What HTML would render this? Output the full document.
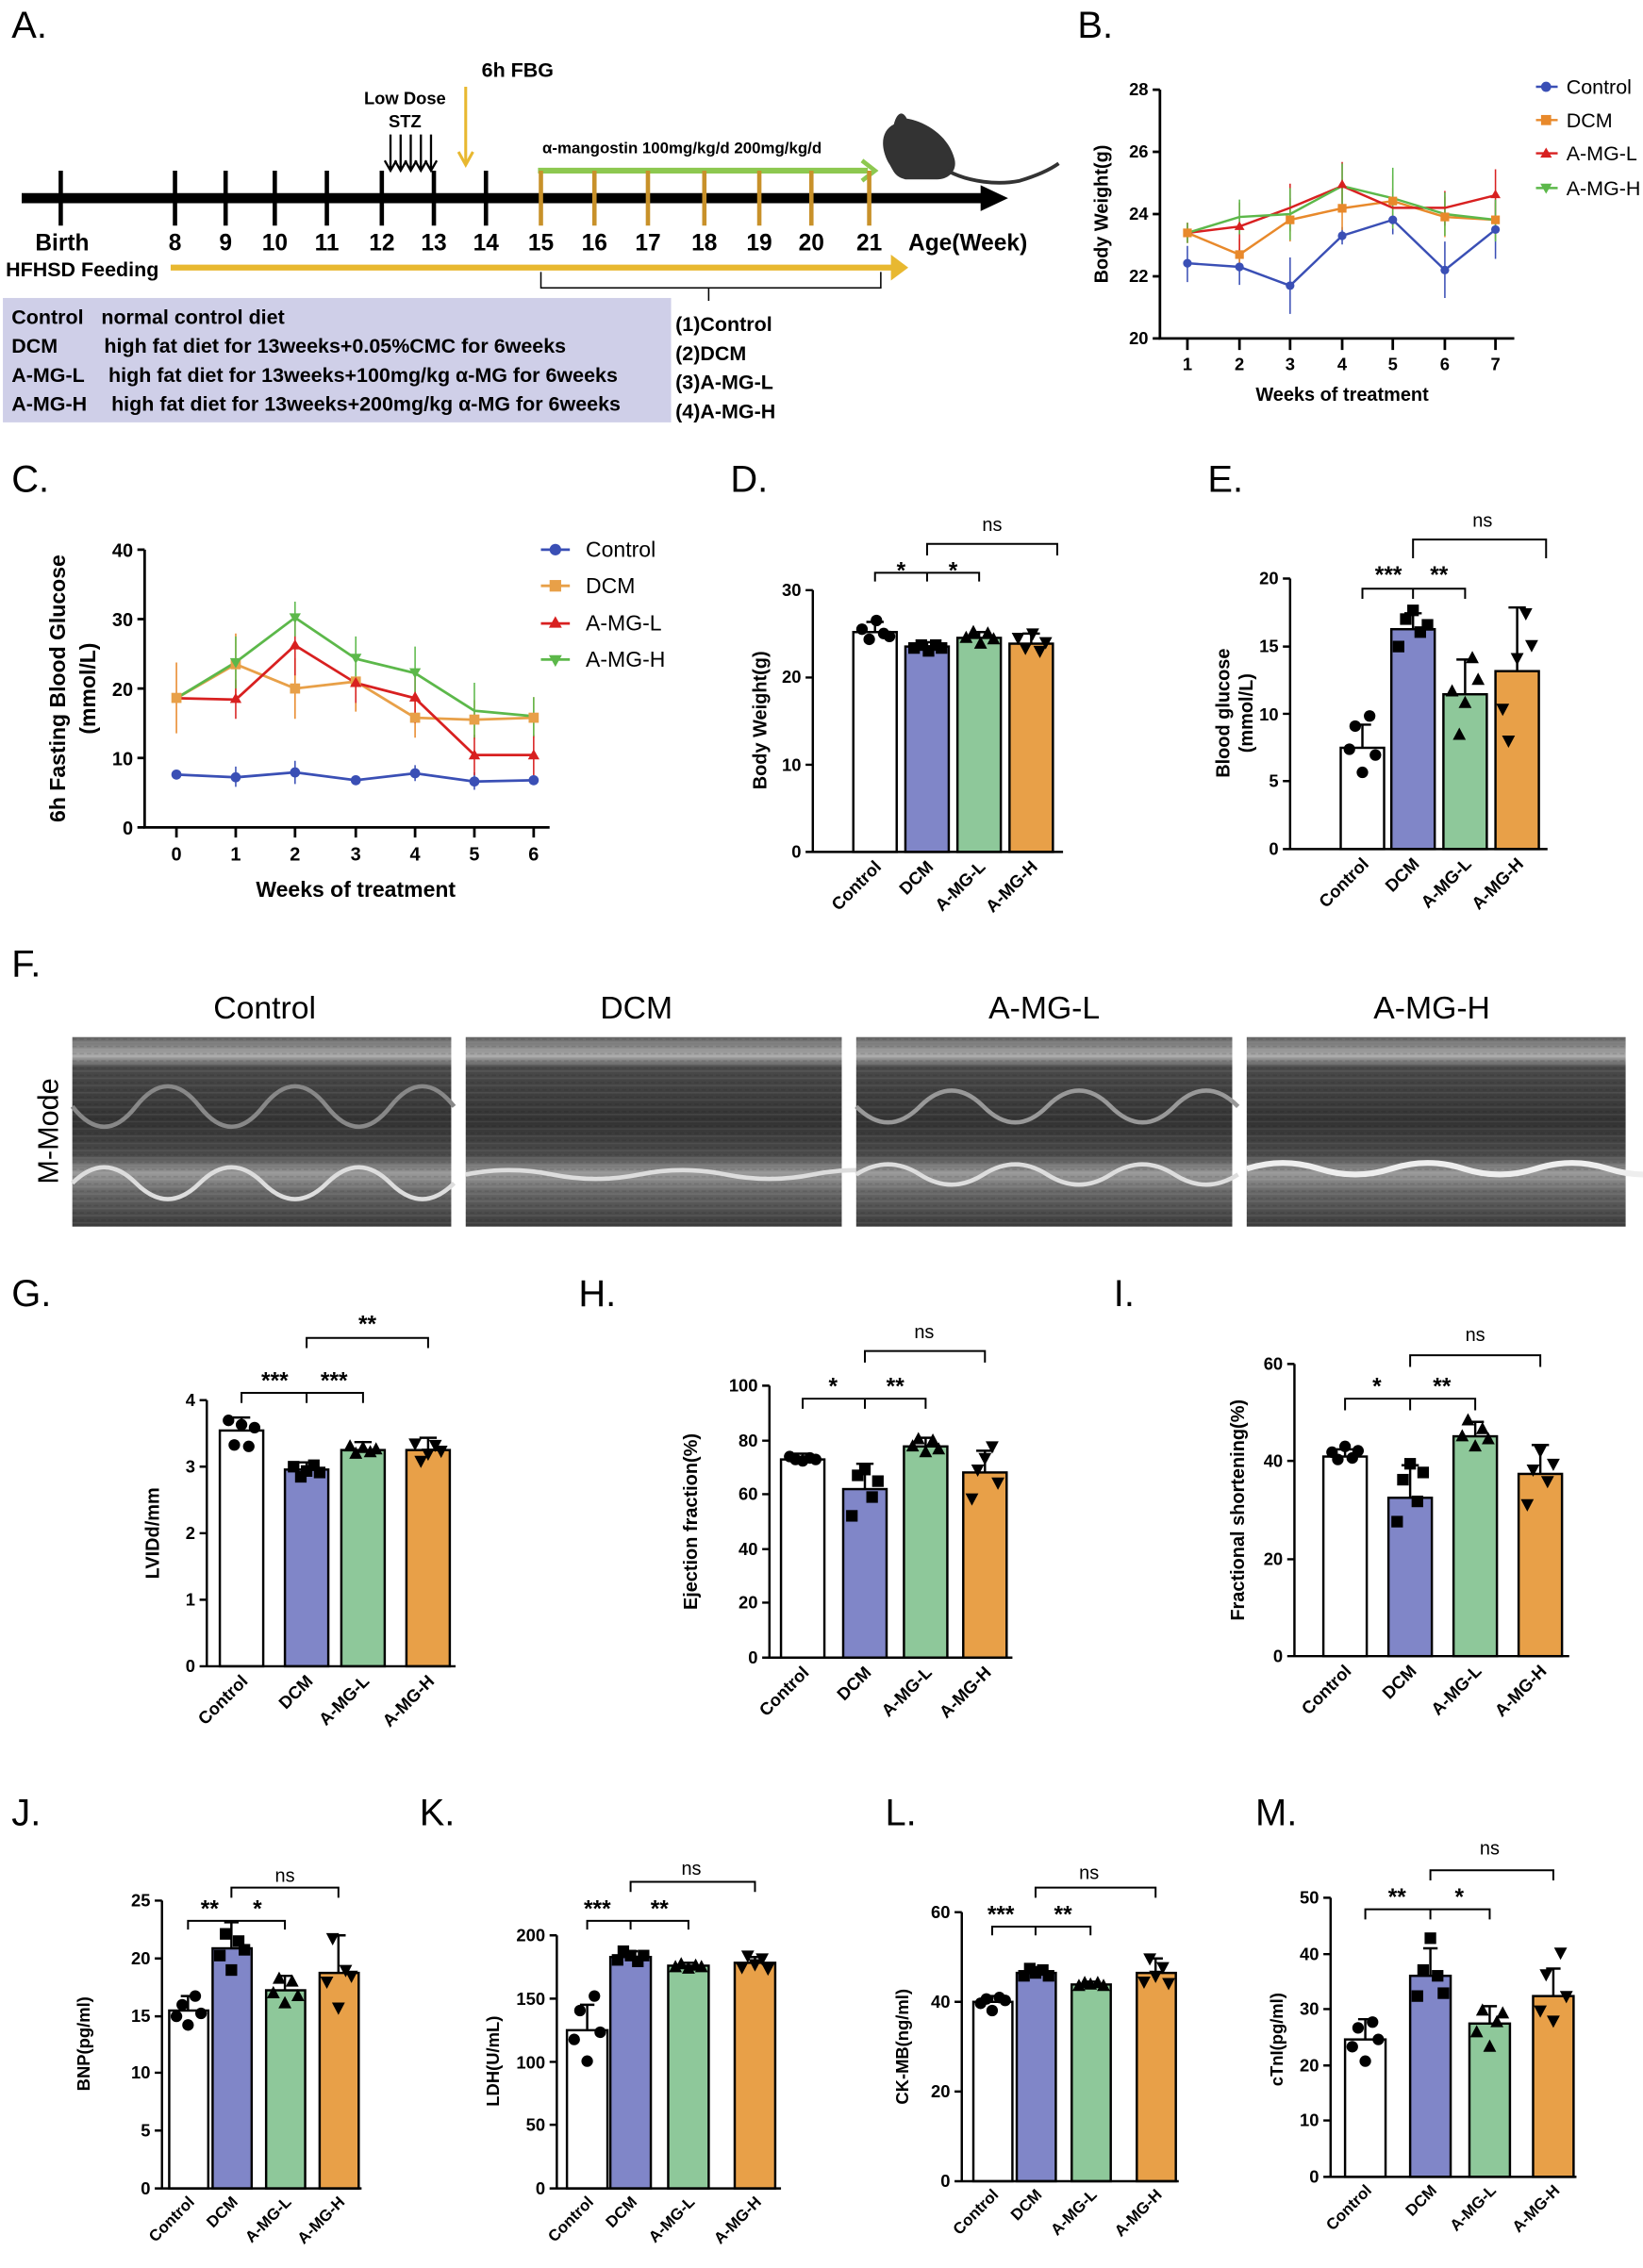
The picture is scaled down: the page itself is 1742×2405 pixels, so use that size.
<!DOCTYPE html>
<html><head><meta charset="utf-8"><style>
html,body{margin:0;padding:0;background:#fff}
svg{display:block}
text{font-family:"Liberation Sans",Arial,sans-serif}
.b{font-weight:bold}
</style></head><body>
<svg width="1742" height="2405" viewBox="0 0 1136 1568" preserveAspectRatio="none" xmlns="http://www.w3.org/2000/svg">
<defs>
<g id="mc"><circle r="4" fill="#000"/></g>
<g id="ms"><rect x="-4" y="-4" width="8" height="8" fill="#000"/></g>
<g id="mt"><path d="M0,-5 L4.5,3.5 L-4.5,3.5Z" fill="#000"/></g>
<g id="mv"><path d="M0,5 L4.5,-3.5 L-4.5,-3.5Z" fill="#000"/></g>
<linearGradient id="eg" x1="0" y1="0" x2="0" y2="1">
<stop offset="0" stop-color="#666"/><stop offset="0.1" stop-color="#aaa"/><stop offset="0.16" stop-color="#4a4a4a"/>
<stop offset="0.45" stop-color="#333"/><stop offset="0.62" stop-color="#4a4a4a"/><stop offset="0.72" stop-color="#999"/>
<stop offset="0.82" stop-color="#666"/><stop offset="1" stop-color="#3a3a3a"/></linearGradient>
<pattern id="lines" width="5" height="5" patternUnits="userSpaceOnUse"><rect width="5" height="1" fill="rgba(255,255,255,0.07)"/><rect y="3" width="3" height="1" fill="rgba(0,0,0,0.1)"/></pattern>
</defs>
<rect width="1136" height="1568" fill="#fff"/>

<!-- ===== Panel A ===== -->
<text x="8" y="26" font-size="26">A.</text>
<text x="333" y="53" font-size="14" class="b">6h FBG</text>
<path d="M322,60 V112" stroke="#e8b830" stroke-width="2"/><path d="M317,105 L322,114 L327,105" stroke="#e8b830" stroke-width="2" fill="none"/>
<text x="280" y="72" font-size="12" class="b" text-anchor="middle">Low Dose</text>
<text x="280" y="88" font-size="12" class="b" text-anchor="middle">STZ</text>
<g stroke="#000" stroke-width="1.5" fill="none">
<path d="M270,93 V117 M266,111 L270,118 L274,111"/><path d="M277,93 V117 M273,111 L277,118 L281,111"/><path d="M284,93 V117 M280,111 L284,118 L288,111"/><path d="M291,93 V117 M287,111 L291,118 L295,111"/><path d="M298,93 V117 M294,111 L298,118 L302,111"/>
</g>
<text x="375" y="106" font-size="11" class="b">α-mangostin 100mg/kg/d  200mg/kg/d</text>
<path d="M372,118 H600" stroke="#8dc850" stroke-width="4"/><path d="M596,111 L605,118 L596,125" stroke="#8dc850" stroke-width="3" fill="none"/>
<path d="M15,137 H680" stroke="#000" stroke-width="7"/><path d="M678,128 L697,137 L678,146Z" fill="#000"/>
<g stroke="#000" stroke-width="3">
<path d="M42,118 V156 M121,118 V156 M156,118 V156 M190,118 V156 M226,118 V156 M264,118 V156 M300,118 V156 M336,118 V156"/></g>
<g stroke="#c8912a" stroke-width="3">
<path d="M374,118 V156 M411,118 V156 M448,118 V156 M487,118 V156 M525,118 V156 M561,118 V156 M601,118 V156"/></g>
<g font-size="16" class="b" text-anchor="middle">
<text x="43" y="173">Birth</text><text x="121" y="173">8</text><text x="156" y="173">9</text><text x="190" y="173">10</text><text x="226" y="173">11</text><text x="264" y="173">12</text><text x="300" y="173">13</text><text x="336" y="173">14</text><text x="374" y="173">15</text><text x="411" y="173">16</text><text x="448" y="173">17</text><text x="487" y="173">18</text><text x="525" y="173">19</text><text x="561" y="173">20</text><text x="601" y="173">21</text></g>
<text x="628" y="173" font-size="16" class="b">Age(Week)</text>
<text x="4" y="191" font-size="14" class="b">HFHSD Feeding</text>
<path d="M118,185 H620" stroke="#e8b830" stroke-width="4"/><path d="M616,176 L628,185 L616,194Z" fill="#e8b830"/>
<path d="M374,188 V199 H609 V188 M490,199 V208" stroke="#000" stroke-width="1" fill="none"/>
<rect x="2" y="206" width="462" height="86" fill="#cfcfe8"/>
<g font-size="14" class="b">
<text x="8" y="224">Control</text><text x="70" y="224">normal control diet</text>
<text x="8" y="244">DCM</text><text x="72" y="244">high fat diet for 13weeks+0.05%CMC for 6weeks</text>
<text x="8" y="264">A-MG-L</text><text x="75" y="264">high fat diet for 13weeks+100mg/kg α-MG for 6weeks</text>
<text x="8" y="284">A-MG-H</text><text x="77" y="284">high fat diet for 13weeks+200mg/kg α-MG for 6weeks</text>
<text x="467" y="229">(1)Control</text><text x="467" y="249">(2)DCM</text><text x="467" y="269">(3)A-MG-L</text><text x="467" y="289">(4)A-MG-H</text></g>
<!-- mouse -->
<path d="M614,112 C608,100 610,90 618,86 C620,78 624,76 627,82 C640,84 656,94 660,110 C662,118 656,124 648,124 L626,124 C618,122 618,118 614,112Z" fill="#333"/>
<path d="M655,118 C670,126 690,128 705,125 C715,122 725,118 732,113" stroke="#333" stroke-width="2.5" fill="none"/>

<!-- ===== Panel B ===== -->
<text x="745" y="26" font-size="26">B.</text>
<g stroke="#000" stroke-width="1.8" fill="none"><path d="M802,62 V234 H1047"/>
<path d="M797,62 H802 M797,105 H802 M797,148 H802 M797,191 H802 M797,234 H802"/>
<path d="M821,234 V242 M857,234 V242 M892,234 V242 M928,234 V242 M963,234 V242 M999,234 V242 M1034,234 V242"/></g>
<g font-size="12" class="b" text-anchor="end"><text x="794" y="66">28</text><text x="794" y="109">26</text><text x="794" y="152">24</text><text x="794" y="195">22</text><text x="794" y="238">20</text></g>
<g font-size="12" class="b" text-anchor="middle"><text x="821" y="256">1</text><text x="857" y="256">2</text><text x="892" y="256">3</text><text x="928" y="256">4</text><text x="963" y="256">5</text><text x="999" y="256">6</text><text x="1034" y="256">7</text></g>
<text x="928" y="277" font-size="13" class="b" text-anchor="middle">Weeks of treatment</text>
<text transform="translate(766,148) rotate(-90)" font-size="13" class="b" text-anchor="middle">Body Weight(g)</text>
<g fill="none" stroke-width="1">
<path d="M821,170 V195 M857,172 V197 M892,178 V217 M928,157 V169 M963,142 V162 M999,167 V206 M1034,138 V179" stroke="#3a4fb5"/>
<path d="M821,154 V168 M857,165 V187 M892,137 V167 M928,128 V159 M963,121 V158 M999,136 V164 M1034,140 V165" stroke="#e8892b"/>
<path d="M821,154 V168 M857,140 V173 M892,127 V160 M928,112 V145 M963,130 V157 M999,132 V156 M1034,117 V153" stroke="#d82020"/>
<path d="M821,154 V168 M857,138 V162 M892,130 V166 M928,113 V144 M963,116 V158 M999,133 V163 M1034,138 V167" stroke="#5cb84a"/></g>
<polyline points="821,182 857,184.5 892,197.5 928,163 963,152 999,186.7 1034,158.7" fill="none" stroke="#3a4fb5" stroke-width="1.6"/>
<polyline points="821,161 857,176 892,152 928,144 963,139 999,150 1034,152" fill="none" stroke="#e8892b" stroke-width="1.6"/>
<polyline points="821,161 857,156.6 892,143.7 928,128.6 963,143.7 999,143.7 1034,135" fill="none" stroke="#d82020" stroke-width="1.6"/>
<polyline points="821,161 857,150 892,148 928,128.6 963,137 999,148 1034,152" fill="none" stroke="#5cb84a" stroke-width="1.6"/>
<g fill="#3a4fb5"><circle cx="821" cy="182" r="3"/><circle cx="857" cy="184.5" r="3"/><circle cx="892" cy="197.5" r="3"/><circle cx="928" cy="163" r="3"/><circle cx="963" cy="152" r="3"/><circle cx="999" cy="186.7" r="3"/><circle cx="1034" cy="158.7" r="3"/></g>
<g fill="#e8892b"><rect x="818" y="158" width="6" height="6"/><rect x="854" y="173" width="6" height="6"/><rect x="889" y="149" width="6" height="6"/><rect x="925" y="141" width="6" height="6"/><rect x="960" y="136" width="6" height="6"/><rect x="996" y="147" width="6" height="6"/><rect x="1031" y="149" width="6" height="6"/></g>
<g fill="#d82020"><path d="M928,124 l3.5,6 h-7z M1034,131 l3.5,6 h-7z M857,153 l3.5,6 h-7z"/></g>
<g font-size="14"><text x="1083" y="65">Control</text><text x="1083" y="88">DCM</text><text x="1083" y="111">A-MG-L</text><text x="1083" y="135">A-MG-H</text></g>
<path d="M1062,60 H1077" stroke="#3a4fb5" stroke-width="1.6"/><circle cx="1069" cy="60" r="3.5" fill="#3a4fb5"/>
<path d="M1062,83 H1077" stroke="#e8892b" stroke-width="1.6"/><rect x="1065.5" y="79.5" width="7" height="7" fill="#e8892b"/>
<path d="M1062,106 H1077" stroke="#d82020" stroke-width="1.6"/><path d="M1069,102 l4,7 h-8z" fill="#d82020"/>
<path d="M1062,130 H1077" stroke="#5cb84a" stroke-width="1.6"/><path d="M1069,134 l4,-7 h-8z" fill="#5cb84a"/>

<!-- ===== Panel C ===== -->
<text x="8" y="340" font-size="26">C.</text>
<g stroke="#000" stroke-width="1.8" fill="none"><path d="M100,380 V572 H380"/>
<path d="M95,380 H100 M95,428 H100 M95,476 H100 M95,524 H100 M95,572 H100"/>
<path d="M122,572 V579 M163,572 V579 M204,572 V579 M246,572 V579 M287,572 V579 M328,572 V579 M369,572 V579"/></g>
<g font-size="13" class="b" text-anchor="end"><text x="92" y="385">40</text><text x="92" y="433">30</text><text x="92" y="481">20</text><text x="92" y="529">10</text><text x="92" y="577">0</text></g>
<g font-size="13" class="b" text-anchor="middle"><text x="122" y="595">0</text><text x="163" y="595">1</text><text x="204" y="595">2</text><text x="246" y="595">3</text><text x="287" y="595">4</text><text x="328" y="595">5</text><text x="369" y="595">6</text></g>
<text x="246" y="620" font-size="15" class="b" text-anchor="middle">Weeks of treatment</text>
<text transform="translate(45,476) rotate(-90)" font-size="15" class="b" text-anchor="middle">6h Fasting Blood Glucose</text>
<text transform="translate(66,476) rotate(-90)" font-size="15" class="b" text-anchor="middle">(mmol/L)</text>
<g fill="none" stroke-width="1">
<path d="M163,530 V544 M204,526 V542 M287,529 V540 M328,534 V546" stroke="#3a4fb5"/>
<path d="M122,458 V507 M163,438 V480 M204,455 V497 M246,450 V492 M287,483 V510 M328,484 V511 M369,482 V510" stroke="#e8892b"/>
<path d="M163,470 V497 M204,425 V467 M246,459 V486 M287,465 V500 M328,508 V536 M369,508 V536" stroke="#d82020"/>
<path d="M163,440 V476 M204,416 V440 M246,440 V471 M287,447 V484 M328,472 V510 M369,482 V509" stroke="#5cb84a"/></g>
<polyline points="122,535.5 163,537.4 204,534 246,539.4 287,534.6 328,540.3 369,539.4" fill="none" stroke="#3a4fb5" stroke-width="1.8"/>
<polyline points="122,482.7 163,459.2 204,476 246,471.2 287,496.2 328,497.6 369,496.2" fill="none" stroke="#e8a048" stroke-width="1.8"/>
<polyline points="122,482.7 163,483.7 204,446.2 246,472.2 287,482.7 328,522 369,522" fill="none" stroke="#d82020" stroke-width="1.8"/>
<polyline points="122,482.7 163,457.8 204,427 246,455.4 287,465.4 328,491.4 369,495.2" fill="none" stroke="#5cb84a" stroke-width="1.8"/>
<g fill="#3a4fb5"><circle cx="122" cy="535.5" r="3.5"/><circle cx="163" cy="537.4" r="3.5"/><circle cx="204" cy="534" r="3.5"/><circle cx="246" cy="539.4" r="3.5"/><circle cx="287" cy="534.6" r="3.5"/><circle cx="328" cy="540.3" r="3.5"/><circle cx="369" cy="539.4" r="3.5"/></g>
<g fill="#e8a048"><rect x="118.5" y="479" width="7" height="7"/><rect x="159.5" y="455.7" width="7" height="7"/><rect x="200.5" y="472.5" width="7" height="7"/><rect x="242.5" y="467.7" width="7" height="7"/><rect x="283.5" y="492.7" width="7" height="7"/><rect x="324.5" y="494" width="7" height="7"/><rect x="365.5" y="492.7" width="7" height="7"/></g>
<g fill="#d82020"><path d="M163,479 l4,7 h-8z M204,442 l4,7 h-8z M246,468 l4,7 h-8z M287,478 l4,7 h-8z M328,518 l4,7 h-8z M369,518 l4,7 h-8z"/></g>
<g fill="#5cb84a"><path d="M204,431 l4,-7 h-8z M163,462 l4,-7 h-8z M246,459 l4,-7 h-8z M287,469 l4,-7 h-8z"/></g>
<g font-size="15"><text x="405" y="385">Control</text><text x="405" y="410">DCM</text><text x="405" y="436">A-MG-L</text><text x="405" y="461">A-MG-H</text></g>
<path d="M374,380 H394" stroke="#3a4fb5" stroke-width="1.8"/><circle cx="384" cy="380" r="4" fill="#3a4fb5"/>
<path d="M374,405 H394" stroke="#e8a048" stroke-width="1.8"/><rect x="380" y="401" width="8" height="8" fill="#e8a048"/>
<path d="M374,431 H394" stroke="#d82020" stroke-width="1.8"/><path d="M384,426 l4.5,8 h-9z" fill="#d82020"/>
<path d="M374,456 H394" stroke="#5cb84a" stroke-width="1.8"/><path d="M384,461 l4.5,-8 h-9z" fill="#5cb84a"/>

<!-- ===== Panel D ===== -->
<text x="505" y="340" font-size="26">D.</text>
<g stroke="#000" stroke-width="1.6">
<rect x="590" y="437" width="30" height="152" fill="#fff"/><rect x="626" y="447" width="30" height="142" fill="#8086c8"/><rect x="662" y="441" width="30" height="148" fill="#8ec89a"/><rect x="698" y="445" width="30" height="144" fill="#e8a048"/>
<path d="M605,437 V430 M599,430 H611 M641,447 V444 M635,444 H647 M677,441 V437 M671,437 H683 M713,445 V438 M707,438 H719" fill="none"/>
<path d="M562,408 V589 H735 M557,408 H562 M557,468.4 H562 M557,528.7 H562 M557,589 H562" fill="none"/>
<path d="M605,402 V396 H641 V402 M641,402 V396 H677 V402 M641,384 V376 H731 V384" fill="none" stroke-width="1.3"/></g>
<g font-size="12" class="b" text-anchor="end"><text x="554" y="412">30</text><text x="554" y="472">20</text><text x="554" y="533">10</text><text x="554" y="593">0</text></g>
<text transform="translate(530,498) rotate(-90)" font-size="13" class="b" text-anchor="middle">Body Weight(g)</text>
<g font-size="16" class="b" text-anchor="middle"><text x="623" y="400">*</text><text x="659" y="400">*</text></g><text x="686" y="367" font-size="13" text-anchor="middle">ns</text>
<g font-size="12" class="b" text-anchor="end"><text transform="translate(610,600) rotate(-45)">Control</text><text transform="translate(646,600) rotate(-45)">DCM</text><text transform="translate(682,600) rotate(-45)">A-MG-L</text><text transform="translate(718,600) rotate(-45)">A-MG-H</text></g>
<use href="#mc" x="596" y="435"/><use href="#mc" x="601" y="442"/><use href="#mc" x="606" y="429"/><use href="#mc" x="611" y="438"/><use href="#mc" x="615" y="440"/>
<use href="#ms" x="632" y="448"/><use href="#ms" x="637" y="446"/><use href="#ms" x="642" y="450"/><use href="#ms" x="647" y="446"/><use href="#ms" x="651" y="448"/>
<use href="#mt" x="668" y="441"/><use href="#mt" x="673" y="437"/><use href="#mt" x="678" y="445"/><use href="#mt" x="683" y="438"/><use href="#mt" x="687" y="442"/>
<use href="#mv" x="704" y="441"/><use href="#mv" x="709" y="448"/><use href="#mv" x="714" y="438"/><use href="#mv" x="719" y="450"/><use href="#mv" x="723" y="444"/>

<!-- ===== Panel E ===== -->
<text x="835" y="340" font-size="26">E.</text>
<g stroke="#000" stroke-width="1.6">
<rect x="927" y="517" width="30" height="70" fill="#fff"/><rect x="962" y="435" width="30" height="152" fill="#8086c8"/><rect x="998" y="480" width="30" height="107" fill="#8ec89a"/><rect x="1034" y="464" width="30" height="123" fill="#e8a048"/>
<path d="M942,517 V501 M936,501 H948 M977,435 V424 M971,424 H983 M1013,480 V456 M1007,456 H1019 M1049,464 V420 M1043,420 H1055" fill="none"/>
<path d="M892,400 V587 H1070 M887,400 H892 M887,447 H892 M887,493.5 H892 M887,540 H892 M887,587 H892" fill="none"/>
<path d="M942,414 V407 H977 V414 M977,414 V407 H1013 V414 M977,386 V373 H1069 V386" fill="none" stroke-width="1.3"/></g>
<g font-size="12" class="b" text-anchor="end"><text x="884" y="404">20</text><text x="884" y="451">15</text><text x="884" y="498">10</text><text x="884" y="544">5</text><text x="884" y="591">0</text></g>
<text transform="translate(850,493) rotate(-90)" font-size="13" class="b" text-anchor="middle">Blood glucose</text>
<text transform="translate(866,493) rotate(-90)" font-size="13" class="b" text-anchor="middle">(mmol/L)</text>
<g font-size="16" class="b" text-anchor="middle"><text x="960" y="403">***</text><text x="995" y="403">**</text></g><text x="1025" y="364" font-size="13" text-anchor="middle">ns</text>
<g font-size="12" class="b" text-anchor="end"><text transform="translate(947,598) rotate(-45)">Control</text><text transform="translate(982,598) rotate(-45)">DCM</text><text transform="translate(1018,598) rotate(-45)">A-MG-L</text><text transform="translate(1054,598) rotate(-45)">A-MG-H</text></g>
<use href="#mc" x="933" y="518"/><use href="#mc" x="937" y="502"/><use href="#mc" x="942" y="534"/><use href="#mc" x="947" y="495"/><use href="#mc" x="951" y="522"/>
<use href="#ms" x="967" y="447"/><use href="#ms" x="972" y="428"/><use href="#ms" x="977" y="422"/><use href="#ms" x="982" y="437"/><use href="#ms" x="987" y="432"/>
<use href="#mt" x="1004" y="478"/><use href="#mt" x="1009" y="508"/><use href="#mt" x="1013" y="486"/><use href="#mt" x="1018" y="455"/><use href="#mt" x="1022" y="470"/>
<use href="#mv" x="1039" y="490"/><use href="#mv" x="1043" y="512"/><use href="#mv" x="1049" y="455"/><use href="#mv" x="1055" y="424"/><use href="#mv" x="1059" y="446"/>

<!-- ===== Panel F ===== -->
<text x="8" y="675" font-size="26">F.</text>
<g font-size="22" text-anchor="middle"><text x="183" y="704">Control</text><text x="440" y="704">DCM</text><text x="722" y="704">A-MG-L</text><text x="990" y="704">A-MG-H</text></g>
<text transform="translate(40,782) rotate(-90)" font-size="20" text-anchor="middle">M-Mode</text>
<g>
<rect x="50" y="717" width="262" height="131" fill="url(#eg)"/><rect x="50" y="717" width="262" height="131" fill="url(#lines)"/>
<path d="M50,818 q22,-22 44,0 t44,0 t44,0 t44,0 t44,0 t44,0" stroke="#ddd" stroke-width="3" fill="none"/>
<path d="M50,765 q22,28 44,0 t44,0 t44,0 t44,0 t44,0 t44,0" stroke="#888" stroke-width="3" fill="none"/>
<rect x="322" y="717" width="260" height="131" fill="url(#eg)"/><rect x="322" y="717" width="260" height="131" fill="url(#lines)"/>
<path d="M322,812 q30,-6 60,0 t60,0 t60,0 t60,0 t60,0" stroke="#ddd" stroke-width="3" fill="none"/>
<rect x="592" y="717" width="260" height="131" fill="url(#eg)"/><rect x="592" y="717" width="260" height="131" fill="url(#lines)"/>
<path d="M592,765 q22,22 44,0 t44,0 t44,0 t44,0 t44,0 t44,0" stroke="#999" stroke-width="3" fill="none"/>
<path d="M592,812 q22,-14 44,0 t44,0 t44,0 t44,0 t44,0 t44,0" stroke="#ddd" stroke-width="3" fill="none"/>
<rect x="862" y="717" width="262" height="131" fill="url(#eg)"/><rect x="862" y="717" width="262" height="131" fill="url(#lines)"/>
<path d="M862,808 q25,-8 50,0 t50,0 t50,0 t50,0 t50,0 t50,0" stroke="#eee" stroke-width="4" fill="none"/>
</g>

<!-- ===== Panel G ===== -->
<text x="8" y="903" font-size="26">G.</text>
<g stroke="#000" stroke-width="1.6">
<rect x="152" y="989" width="30" height="163" fill="#fff"/><rect x="197" y="1016" width="30" height="136" fill="#8086c8"/><rect x="236" y="1002.5" width="30" height="149.5" fill="#8ec89a"/><rect x="281" y="1002.5" width="30" height="149.5" fill="#e8a048"/>
<path d="M167,989 V980 M161,980 H173 M212,1016 V1011 M206,1011 H218 M251,1002 V997 M245,997 H257 M296,1002 V994 M290,994 H302" fill="none"/>
<path d="M143,968 V1152 H315 M138,968 H143 M138,1014 H143 M138,1060 H143 M138,1106 H143 M138,1152 H143" fill="none"/>
<path d="M167,970 V963 H212 V970 M212,970 V963 H251 V970 M212,932 V925 H296 V932" fill="none" stroke-width="1.3"/></g>
<g font-size="12" class="b" text-anchor="end"><text x="135" y="972">4</text><text x="135" y="1018">3</text><text x="135" y="1064">2</text><text x="135" y="1110">1</text><text x="135" y="1156">0</text></g>
<text transform="translate(110,1060) rotate(-90)" font-size="13" class="b" text-anchor="middle">LVIDd/mm</text>
<g font-size="16" class="b" text-anchor="middle"><text x="190" y="960">***</text><text x="231" y="960">***</text><text x="254" y="921">**</text></g>
<g font-size="12" class="b" text-anchor="end"><text transform="translate(172,1163) rotate(-45)">Control</text><text transform="translate(217,1163) rotate(-45)">DCM</text><text transform="translate(256,1163) rotate(-45)">A-MG-L</text><text transform="translate(301,1163) rotate(-45)">A-MG-H</text></g>
<use href="#mc" x="158" y="982"/><use href="#mc" x="162" y="999"/><use href="#mc" x="167" y="985"/><use href="#mc" x="172" y="1000"/><use href="#mc" x="176" y="987"/>
<use href="#ms" x="203" y="1014"/><use href="#ms" x="208" y="1021"/><use href="#ms" x="212" y="1017"/><use href="#ms" x="217" y="1013"/><use href="#ms" x="221" y="1018"/>
<use href="#mt" x="242" y="1000"/><use href="#mt" x="246" y="1005"/><use href="#mt" x="251" y="1001"/><use href="#mt" x="256" y="1004"/><use href="#mt" x="260" y="1002"/>
<use href="#mv" x="287" y="998"/><use href="#mv" x="291" y="1010"/><use href="#mv" x="296" y="1005"/><use href="#mv" x="301" y="999"/><use href="#mv" x="305" y="1003"/>

<!-- ===== Panel H ===== -->
<text x="400" y="903" font-size="26">H.</text>
<g stroke="#000" stroke-width="1.6">
<rect x="540" y="1009" width="30" height="137" fill="#fff"/><rect x="583" y="1029.5" width="30" height="116.5" fill="#8086c8"/><rect x="625" y="1000" width="30" height="146" fill="#8ec89a"/><rect x="666" y="1018" width="30" height="128" fill="#e8a048"/>
<path d="M555,1009 V1005 M549,1005 H561 M598,1029 V1012 M592,1012 H604 M640,1000 V994 M634,994 H646 M681,1018 V1003 M675,1003 H687" fill="none"/>
<path d="M532,958 V1146 H700 M527,958 H532 M527,996 H532 M527,1033 H532 M527,1071 H532 M527,1108 H532 M527,1146 H532" fill="none"/>
<path d="M555,974 V967 H598 V974 M598,974 V967 H640 V974 M598,942 V934 H681 V942" fill="none" stroke-width="1.3"/></g>
<g font-size="12" class="b" text-anchor="end"><text x="524" y="962">100</text><text x="524" y="1000">80</text><text x="524" y="1037">60</text><text x="524" y="1075">40</text><text x="524" y="1112">20</text><text x="524" y="1150">0</text></g>
<text transform="translate(482,1052) rotate(-90)" font-size="13" class="b" text-anchor="middle">Ejection fraction(%)</text>
<g font-size="16" class="b" text-anchor="middle"><text x="576" y="964">*</text><text x="619" y="964">**</text></g><text x="639" y="925" font-size="13" text-anchor="middle">ns</text>
<g font-size="12" class="b" text-anchor="end"><text transform="translate(560,1157) rotate(-45)">Control</text><text transform="translate(603,1157) rotate(-45)">DCM</text><text transform="translate(645,1157) rotate(-45)">A-MG-L</text><text transform="translate(686,1157) rotate(-45)">A-MG-H</text></g>
<use href="#mc" x="546" y="1007"/><use href="#mc" x="550" y="1009"/><use href="#mc" x="555" y="1010"/><use href="#mc" x="560" y="1008"/><use href="#mc" x="564" y="1009"/>
<use href="#ms" x="589" y="1048"/><use href="#ms" x="593" y="1020"/><use href="#ms" x="598" y="1016"/><use href="#ms" x="603" y="1035"/><use href="#ms" x="607" y="1024"/>
<use href="#mt" x="631" y="1000"/><use href="#mt" x="635" y="995"/><use href="#mt" x="640" y="1004"/><use href="#mt" x="645" y="996"/><use href="#mt" x="649" y="1002"/>
<use href="#mv" x="672" y="1036"/><use href="#mv" x="676" y="1016"/><use href="#mv" x="681" y="1008"/><use href="#mv" x="686" y="1000"/><use href="#mv" x="690" y="1025"/>

<!-- ===== Panel I ===== -->
<text x="770" y="903" font-size="26">I.</text>
<g stroke="#000" stroke-width="1.6">
<rect x="915" y="1007" width="30" height="138" fill="#fff"/><rect x="960" y="1035.5" width="30" height="109.5" fill="#8086c8"/><rect x="1005" y="993" width="30" height="152" fill="#8ec89a"/><rect x="1050" y="1019" width="30" height="126" fill="#e8a048"/>
<path d="M930,1007 V1002 M924,1002 H936 M975,1035 V1013 M969,1013 H981 M1020,993 V983 M1014,983 H1026 M1065,1019 V999 M1059,999 H1071" fill="none"/>
<path d="M895,943 V1145 H1085 M890,943 H895 M890,1010 H895 M890,1078 H895 M890,1145 H895" fill="none"/>
<path d="M930,975 V967 H975 V975 M975,975 V967 H1020 V975 M975,945 V937 H1065 V945" fill="none" stroke-width="1.3"/></g>
<g font-size="12" class="b" text-anchor="end"><text x="887" y="947">60</text><text x="887" y="1014">40</text><text x="887" y="1082">20</text><text x="887" y="1149">0</text></g>
<text transform="translate(860,1044) rotate(-90)" font-size="13" class="b" text-anchor="middle">Fractional shortening(%)</text>
<g font-size="16" class="b" text-anchor="middle"><text x="952" y="964">*</text><text x="997" y="964">**</text></g><text x="1020" y="927" font-size="13" text-anchor="middle">ns</text>
<g font-size="12" class="b" text-anchor="end"><text transform="translate(935,1156) rotate(-45)">Control</text><text transform="translate(980,1156) rotate(-45)">DCM</text><text transform="translate(1025,1156) rotate(-45)">A-MG-L</text><text transform="translate(1070,1156) rotate(-45)">A-MG-H</text></g>
<use href="#mc" x="921" y="1004"/><use href="#mc" x="925" y="1009"/><use href="#mc" x="930" y="1000"/><use href="#mc" x="935" y="1008"/><use href="#mc" x="939" y="1003"/>
<use href="#ms" x="966" y="1052"/><use href="#ms" x="970" y="1023"/><use href="#ms" x="975" y="1012"/><use href="#ms" x="980" y="1038"/><use href="#ms" x="984" y="1018"/>
<use href="#mt" x="1011" y="993"/><use href="#mt" x="1015" y="982"/><use href="#mt" x="1020" y="1000"/><use href="#mt" x="1025" y="988"/><use href="#mt" x="1029" y="995"/>
<use href="#mv" x="1056" y="1040"/><use href="#mv" x="1060" y="1016"/><use href="#mv" x="1065" y="1003"/><use href="#mv" x="1070" y="1024"/><use href="#mv" x="1074" y="1012"/>

<!-- ===== Panel J ===== -->
<text x="8" y="1262" font-size="26">J.</text>
<g stroke="#000" stroke-width="1.6">
<rect x="117" y="1390" width="27" height="123" fill="#fff"/><rect x="147" y="1347" width="27" height="166" fill="#8086c8"/><rect x="184" y="1376" width="27" height="137" fill="#8ec89a"/><rect x="221" y="1364" width="27" height="149" fill="#e8a048"/>
<path d="M130,1390 V1380 M125,1380 H135 M160,1347 V1329 M155,1329 H165 M197,1376 V1366 M192,1366 H202 M234,1364 V1338 M229,1338 H239" fill="none"/>
<path d="M112,1314 V1513 H250 M107,1314 H112 M107,1354 H112 M107,1394 H112 M107,1433 H112 M107,1473 H112 M107,1513 H112" fill="none"/>
<path d="M130,1334 V1328 H160 V1334 M160,1334 V1328 H197 V1334 M160,1312 V1305 H234 V1312" fill="none" stroke-width="1.3"/></g>
<g font-size="12" class="b" text-anchor="end"><text x="104" y="1318">25</text><text x="104" y="1358">20</text><text x="104" y="1398">15</text><text x="104" y="1437">10</text><text x="104" y="1477">5</text><text x="104" y="1517">0</text></g>
<text transform="translate(62,1413) rotate(-90)" font-size="12" class="b" text-anchor="middle">BNP(pg/ml)</text>
<g font-size="16" class="b" text-anchor="middle"><text x="145" y="1325">**</text><text x="178" y="1325">*</text></g><text x="197" y="1301" font-size="13" text-anchor="middle">ns</text>
<g font-size="11" class="b" text-anchor="end"><text transform="translate(135,1523) rotate(-45)">Control</text><text transform="translate(165,1523) rotate(-45)">DCM</text><text transform="translate(202,1523) rotate(-45)">A-MG-L</text><text transform="translate(239,1523) rotate(-45)">A-MG-H</text></g>
<use href="#mc" x="122" y="1394"/><use href="#mc" x="126" y="1386"/><use href="#mc" x="130" y="1400"/><use href="#mc" x="135" y="1380"/><use href="#mc" x="139" y="1392"/>
<use href="#ms" x="152" y="1352"/><use href="#ms" x="156" y="1337"/><use href="#ms" x="160" y="1362"/><use href="#ms" x="165" y="1342"/><use href="#ms" x="169" y="1348"/>
<use href="#mt" x="189" y="1378"/><use href="#mt" x="193" y="1368"/><use href="#mt" x="197" y="1385"/><use href="#mt" x="202" y="1370"/><use href="#mt" x="206" y="1380"/>
<use href="#mv" x="226" y="1370"/><use href="#mv" x="230" y="1340"/><use href="#mv" x="234" y="1388"/><use href="#mv" x="239" y="1362"/><use href="#mv" x="243" y="1366"/>

<!-- ===== Panel K ===== -->
<text x="290" y="1262" font-size="26">K.</text>
<g stroke="#000" stroke-width="1.6">
<rect x="392" y="1403.6" width="28" height="109.4" fill="#fff"/><rect x="422" y="1353" width="28" height="160" fill="#8086c8"/><rect x="462" y="1359" width="28" height="154" fill="#8ec89a"/><rect x="508" y="1357" width="28" height="156" fill="#e8a048"/>
<path d="M406,1403 V1386 M401,1386 H411 M436,1353 V1349 M431,1349 H441 M476,1359 V1357 M471,1357 H481 M522,1357 V1353 M517,1353 H527" fill="none"/>
<path d="M385,1338 V1513 H540 M380,1338 H385 M380,1381.8 H385 M380,1425.5 H385 M380,1469 H385 M380,1513 H385" fill="none"/>
<path d="M406,1334 V1328 H436 V1334 M436,1334 V1328 H476 V1334 M436,1308 V1301 H522 V1308" fill="none" stroke-width="1.3"/></g>
<g font-size="12" class="b" text-anchor="end"><text x="377" y="1342">200</text><text x="377" y="1386">150</text><text x="377" y="1430">100</text><text x="377" y="1473">50</text><text x="377" y="1517">0</text></g>
<text transform="translate(345,1425) rotate(-90)" font-size="12" class="b" text-anchor="middle">LDH(U/mL)</text>
<g font-size="16" class="b" text-anchor="middle"><text x="413" y="1325">***</text><text x="456" y="1325">**</text></g><text x="478" y="1296" font-size="13" text-anchor="middle">ns</text>
<g font-size="11" class="b" text-anchor="end"><text transform="translate(411,1523) rotate(-45)">Control</text><text transform="translate(441,1523) rotate(-45)">DCM</text><text transform="translate(481,1523) rotate(-45)">A-MG-L</text><text transform="translate(527,1523) rotate(-45)">A-MG-H</text></g>
<use href="#mc" x="397" y="1410"/><use href="#mc" x="401" y="1390"/><use href="#mc" x="406" y="1425"/><use href="#mc" x="411" y="1380"/><use href="#mc" x="415" y="1405"/>
<use href="#ms" x="427" y="1355"/><use href="#ms" x="431" y="1349"/><use href="#ms" x="436" y="1352"/><use href="#ms" x="441" y="1356"/><use href="#ms" x="445" y="1352"/>
<use href="#mt" x="467" y="1360"/><use href="#mt" x="471" y="1358"/><use href="#mt" x="476" y="1361"/><use href="#mt" x="481" y="1359"/><use href="#mt" x="485" y="1360"/>
<use href="#mv" x="513" y="1360"/><use href="#mv" x="517" y="1352"/><use href="#mv" x="522" y="1358"/><use href="#mv" x="527" y="1354"/><use href="#mv" x="531" y="1361"/>

<!-- ===== Panel L ===== -->
<text x="612" y="1262" font-size="26">L.</text>
<g stroke="#000" stroke-width="1.6">
<rect x="673" y="1384" width="27" height="124" fill="#fff"/><rect x="703" y="1364" width="27" height="144" fill="#8086c8"/><rect x="741" y="1372" width="27" height="136" fill="#8ec89a"/><rect x="786" y="1364" width="27" height="144" fill="#e8a048"/>
<path d="M686,1384 V1380 M681,1380 H691 M716,1364 V1360 M711,1360 H721 M754,1372 V1370 M749,1370 H759 M799,1364 V1354 M794,1354 H804" fill="none"/>
<path d="M665,1322 V1508 H815 M660,1322 H665 M660,1384 H665 M660,1446 H665 M660,1508 H665" fill="none"/>
<path d="M686,1338 V1332 H716 V1338 M716,1338 V1332 H754 V1338 M716,1312 V1305 H799 V1312" fill="none" stroke-width="1.3"/></g>
<g font-size="12" class="b" text-anchor="end"><text x="657" y="1326">60</text><text x="657" y="1388">40</text><text x="657" y="1450">20</text><text x="657" y="1512">0</text></g>
<text transform="translate(628,1415) rotate(-90)" font-size="12" class="b" text-anchor="middle">CK-MB(ng/ml)</text>
<g font-size="16" class="b" text-anchor="middle"><text x="692" y="1329">***</text><text x="735" y="1329">**</text></g><text x="753" y="1299" font-size="13" text-anchor="middle">ns</text>
<g font-size="11" class="b" text-anchor="end"><text transform="translate(691,1518) rotate(-45)">Control</text><text transform="translate(721,1518) rotate(-45)">DCM</text><text transform="translate(759,1518) rotate(-45)">A-MG-L</text><text transform="translate(804,1518) rotate(-45)">A-MG-H</text></g>
<use href="#mc" x="678" y="1385"/><use href="#mc" x="682" y="1382"/><use href="#mc" x="686" y="1390"/><use href="#mc" x="691" y="1381"/><use href="#mc" x="695" y="1383"/>
<use href="#ms" x="708" y="1366"/><use href="#ms" x="712" y="1361"/><use href="#ms" x="716" y="1364"/><use href="#ms" x="721" y="1362"/><use href="#ms" x="725" y="1366"/>
<use href="#mt" x="746" y="1373"/><use href="#mt" x="750" y="1371"/><use href="#mt" x="754" y="1372"/><use href="#mt" x="759" y="1371"/><use href="#mt" x="763" y="1373"/>
<use href="#mv" x="791" y="1370"/><use href="#mv" x="795" y="1354"/><use href="#mv" x="799" y="1366"/><use href="#mv" x="804" y="1360"/><use href="#mv" x="808" y="1371"/>

<!-- ===== Panel M ===== -->
<text x="868" y="1262" font-size="26">M.</text>
<g stroke="#000" stroke-width="1.6">
<rect x="930" y="1410" width="28" height="95" fill="#fff"/><rect x="975" y="1366" width="28" height="139" fill="#8086c8"/><rect x="1016" y="1399" width="28" height="106" fill="#8ec89a"/><rect x="1060" y="1380" width="28" height="125" fill="#e8a048"/>
<path d="M944,1410 V1396 M939,1396 H949 M989,1366 V1347 M984,1347 H994 M1030,1399 V1387 M1025,1387 H1035 M1074,1380 V1361 M1069,1361 H1079" fill="none"/>
<path d="M920,1312 V1505 H1090 M915,1312 H920 M915,1351 H920 M915,1389 H920 M915,1428 H920 M915,1466 H920 M915,1505 H920" fill="none"/>
<path d="M944,1327 V1320 H989 V1327 M989,1327 V1320 H1030 V1327 M989,1300 V1293 H1074 V1300" fill="none" stroke-width="1.3"/></g>
<g font-size="12" class="b" text-anchor="end"><text x="912" y="1316">50</text><text x="912" y="1355">40</text><text x="912" y="1393">30</text><text x="912" y="1432">20</text><text x="912" y="1470">10</text><text x="912" y="1509">0</text></g>
<text transform="translate(887,1410) rotate(-90)" font-size="12" class="b" text-anchor="middle">cTnI(pg/ml)</text>
<g font-size="16" class="b" text-anchor="middle"><text x="966" y="1317">**</text><text x="1009" y="1317">*</text></g><text x="1030" y="1282" font-size="13" text-anchor="middle">ns</text>
<g font-size="11" class="b" text-anchor="end"><text transform="translate(949,1515) rotate(-45)">Control</text><text transform="translate(994,1515) rotate(-45)">DCM</text><text transform="translate(1035,1515) rotate(-45)">A-MG-L</text><text transform="translate(1079,1515) rotate(-45)">A-MG-H</text></g>
<use href="#mc" x="935" y="1415"/><use href="#mc" x="939" y="1402"/><use href="#mc" x="944" y="1425"/><use href="#mc" x="949" y="1398"/><use href="#mc" x="953" y="1410"/>
<use href="#ms" x="980" y="1380"/><use href="#ms" x="984" y="1362"/><use href="#ms" x="989" y="1340"/><use href="#ms" x="994" y="1366"/><use href="#ms" x="998" y="1378"/>
<use href="#mt" x="1021" y="1405"/><use href="#mt" x="1025" y="1390"/><use href="#mt" x="1030" y="1415"/><use href="#mt" x="1035" y="1398"/><use href="#mt" x="1039" y="1392"/>
<use href="#mv" x="1065" y="1390"/><use href="#mv" x="1069" y="1365"/><use href="#mv" x="1074" y="1397"/><use href="#mv" x="1079" y="1350"/><use href="#mv" x="1083" y="1380"/>
</svg>
</body></html>
